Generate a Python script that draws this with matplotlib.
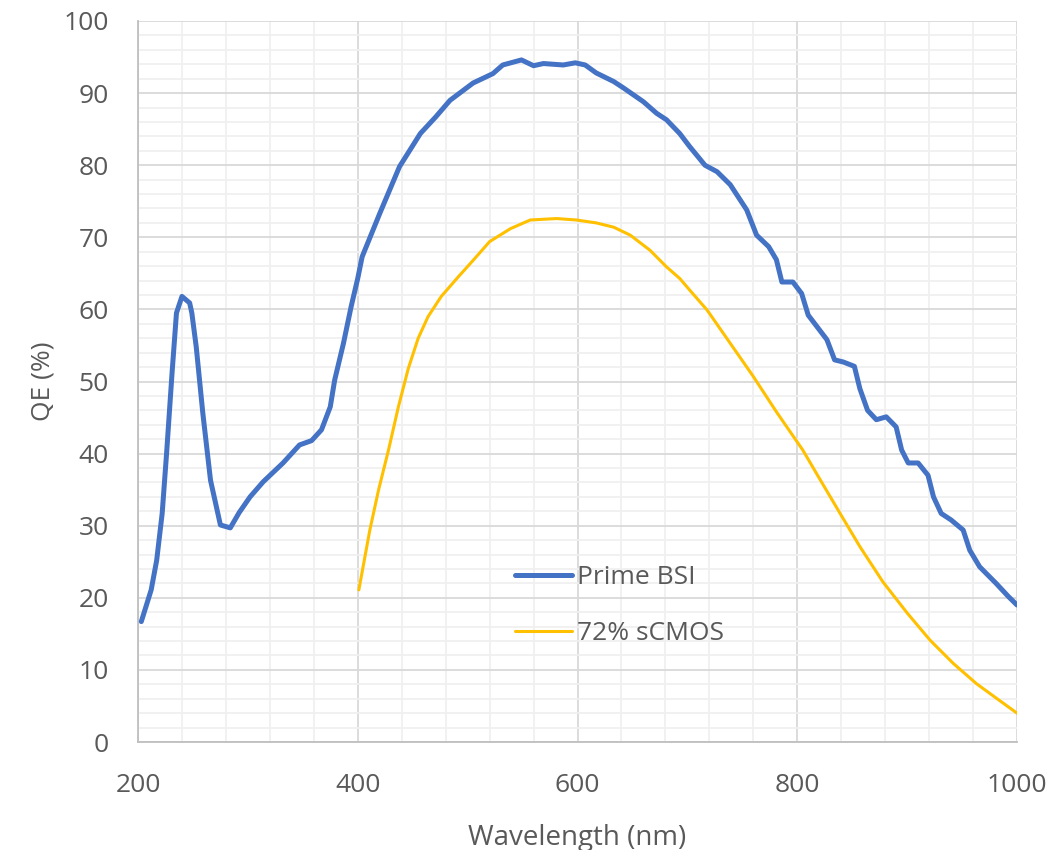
import matplotlib
matplotlib.use("Agg")
import matplotlib.pyplot as plt
from matplotlib.ticker import MultipleLocator

plt.rcParams['font.family'] = ['Open Sans', 'DejaVu Sans']

# Prime BSI curve
bsi_nm = [203, 212, 217, 222, 226, 231, 235, 240, 247, 249, 253, 259, 266,
          275, 284, 292, 302, 314, 332, 347, 358, 367, 375, 379, 387, 394,
          400, 404, 420, 438, 457, 471, 484, 505, 523, 532, 549, 560, 569,
          587, 598, 607, 617, 633, 642, 660, 672, 681, 693, 702, 716, 727,
          739, 754, 763, 774, 781, 786, 796, 804, 810, 827, 834, 842, 852,
          857, 864, 872, 881, 890, 895, 901, 910, 919, 924, 931, 940, 951,
          957, 966, 981, 992, 1000]
bsi_qe = [16.7, 21.1, 25.2, 31.7, 40.0, 51.2, 59.5, 61.8, 60.9, 59.5, 54.8,
          45.6, 36.3, 30.1, 29.7, 31.8, 34.0, 36.1, 38.7, 41.2, 41.8, 43.3,
          46.5, 50.2, 55.3, 60.4, 64.3, 67.3, 73.3, 79.8, 84.4, 86.7, 89.0,
          91.4, 92.7, 93.9, 94.6, 93.8, 94.1, 93.9, 94.2, 93.9, 92.8, 91.6,
          90.7, 88.8, 87.2, 86.3, 84.4, 82.6, 80.0, 79.1, 77.3, 73.8, 70.3,
          68.7, 66.9, 63.8, 63.8, 62.2, 59.2, 55.8, 53.0, 52.7, 52.1, 49.0,
          46.0, 44.7, 45.1, 43.7, 40.5, 38.7, 38.7, 37.0, 34.0, 31.7, 30.8,
          29.4, 26.6, 24.3, 22.0, 20.2, 19.0]

# 72% sCMOS curve
scmos_nm = [401, 411, 419, 428, 437, 446, 455, 464, 476, 492, 505, 520, 539,
            557, 581, 599, 617, 633, 648, 666, 681, 693, 702, 718, 739, 760,
            781, 805, 820, 839, 857, 878, 900, 921, 942, 963, 981, 1000]
scmos_qe = [21.1, 29.4, 35.0, 40.5, 46.5, 51.8, 56.0, 59.0, 61.8, 64.6, 66.8,
            69.4, 71.2, 72.4, 72.6, 72.4, 72.0, 71.4, 70.3, 68.2, 65.9, 64.3,
            62.7, 59.9, 55.3, 50.7, 45.8, 40.5, 36.6, 31.7, 27.1, 22.2, 17.9,
            14.1, 10.9, 8.1, 6.1, 4.0]

text_color = '#595959'

fig = plt.figure(figsize=(10.59, 8.5), dpi=100)
ax = fig.add_axes([138 / 1059, 1 - 742 / 850, 879 / 1059, 721 / 850])

ax.plot(bsi_nm, bsi_qe, color='#4472C4', lw=3.6, label='Prime BSI',
        solid_joinstyle='round', solid_capstyle='round', zorder=3)
ax.plot(scmos_nm, scmos_qe, color='#FFC000', lw=2.2, label='72% sCMOS',
        solid_joinstyle='round', solid_capstyle='round', zorder=3)

ax.set_xlim(200, 1000)
ax.set_ylim(0, 100)
ax.xaxis.set_major_locator(MultipleLocator(200))
ax.xaxis.set_minor_locator(MultipleLocator(40))
ax.yaxis.set_major_locator(MultipleLocator(10))
ax.yaxis.set_minor_locator(MultipleLocator(2))

ax.grid(which='major', color='#D9D9D9', lw=1.3, zorder=1)
ax.grid(which='minor', color='#F0F0F0', lw=1.3, zorder=0)
ax.set_axisbelow(True)

for s in ['top', 'right']:
    ax.spines[s].set_visible(False)
for s in ['left', 'bottom']:
    ax.spines[s].set_color('#BFBFBF')
    ax.spines[s].set_linewidth(1.3)

ax.tick_params(which='both', length=0)
ax.tick_params(axis='x', pad=22, labelsize=19, labelcolor=text_color)
ax.tick_params(axis='y', pad=21, labelsize=19, labelcolor=text_color)

ax.set_xlabel('Wavelength (nm)', fontsize=20, color=text_color, labelpad=19)
ax.set_ylabel('QE (%)', fontsize=19, color=text_color, labelpad=6)

leg = ax.legend(loc='center left', bbox_to_anchor=(0.429, 0.189),
                frameon=False, fontsize=19, borderpad=0, borderaxespad=0,
                handlelength=2.15, handletextpad=0.2, labelspacing=1.17)
for t in leg.get_texts():
    t.set_color(text_color)

fig.savefig('out.png', dpi=100)
